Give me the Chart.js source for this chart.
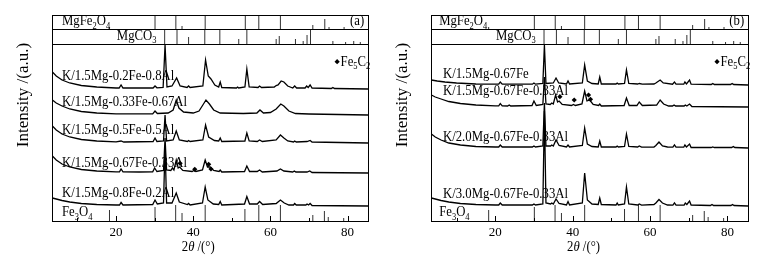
<!DOCTYPE html>
<html>
<head>
<meta charset="utf-8">
<script src="https://cdn.jsdelivr.net/npm/chart.js@4.4.0/dist/chart.umd.min.js"></script>
<style>
body { margin: 0; background: #fff; width: 776px; height: 256px; overflow: hidden; }
canvas { position: absolute; top: 0; }
#chartA { left: 0; }
#chartB { left: 388px; }
</style>
</head>
<body>
<canvas id="chartA" width="388" height="256"></canvas>
<canvas id="chartB" width="388" height="256"></canvas>
<script>
// ---- data ----
var xTicks = [20, 40, 60, 80];
var xMinorTicks = [10, 30, 50, 70];

// reference cards: [2theta, stick height]
var fe3o4Sticks = [[18.3, 11], [30.1, 14], [35.45, 16], [37.1, 8], [43.1, 16], [53.4, 12], [57.0, 16], [62.6, 16], [71.0, 6], [74.0, 10], [75.0, 4], [79.0, 3]];
var mgfe2o4Sticks = [[18.3, 2], [30.1, 14], [35.5, 14], [37.1, 3], [43.1, 14], [53.5, 14], [57.0, 14], [62.6, 14], [71.0, 4], [74.1, 10], [75.2, 2], [79.1, 2]];
var mgco3Sticks = [[32.6, 15], [35.8, 15], [38.8, 7], [43.0, 15], [46.9, 15], [51.8, 5], [53.9, 15], [61.5, 5], [62.3, 8], [66.5, 5], [68.5, 3], [69.5, 9], [70.4, 15], [76.2, 3], [79.5, 2], [81.6, 3], [83.3, 2]];

// panel (a) patterns: [2theta, intensity above own baseline]
var a1 = [[3.5,17],[4.5,13],[6,9],[8,6],[11,3.5],[15,2],[20,1],[20.8,1],[21.3,4],[21.8,1],[29.6,1],[30.1,3],[30.6,1.2],[32.2,1.5],[32.7,44],[33.2,2],[34.5,3],[35.7,11],[36.6,3],[38.4,1.5],[38.8,3],[39.2,1.5],[42.5,3],[43.2,29],[43.9,13],[44.6,10],[45.6,4],[46.6,2],[47.0,7],[47.4,1.5],[51.2,1],[51.5,2],[51.8,1],[53.4,2],[53.9,20],[54.5,2],[56.8,1.5],[57.2,3],[57.7,1.5],[61,2],[61.5,3.5],[62,4],[62.8,8],[63.5,7],[64.5,3],[65.8,1],[66.3,3],[66.8,1],[69,1],[69.4,3],[69.8,1.5],[70.3,4],[70.8,1],[75.8,0.5],[76.2,1.5],[76.6,0.5],[85.3,0]];
var a2 = [[3.5,15],[4.5,12],[6,9],[8,6],[11,3.5],[15,2],[20,1.2],[29.5,1.2],[30.1,4],[30.7,1.5],[33.5,2],[34.8,5],[35.6,15],[36.3,7],[37.5,3],[40,2],[41.5,4],[42.5,10],[43.3,15],[44.2,11],[45.3,5],[47,2],[53,1.5],[56.5,2],[57.3,5],[58.2,2],[60,2.5],[61.5,6],[62.7,11],[63.5,9],[64.8,4],[66.5,1.5],[70,1],[85.3,0]];
var a3 = [[3.5,17],[4.5,13],[6,9],[8,6],[11,3.5],[15,2],[20,1.2],[21.3,2],[22,1],[29.6,1.5],[30.1,5],[30.6,1.5],[32.3,2],[32.7,28],[33.1,2],[34.8,3],[35.6,12],[36.4,3],[38.5,1.5],[38.8,2.5],[39.2,1.5],[42.5,3],[43.2,18],[44,6],[45.5,2.5],[46.6,2],[47,5],[47.4,1.5],[53.4,2],[53.9,10],[54.5,2],[56.6,1.5],[57.2,3],[57.9,1.5],[61.5,3],[62.6,8],[63.5,5],[64.5,2],[66,1],[66.3,2],[66.7,1],[69.5,1.5],[70.3,2.5],[70.8,1],[85.3,0]];
var a4 = [[3.5,17],[4.5,13],[6,9],[8,6],[11,3.5],[15,2],[20,1.2],[20.9,1.2],[21.3,4],[21.8,1.2],[26,1],[29.5,1.2],[30.0,5],[30.6,1.5],[32.3,2.5],[32.7,35],[33.1,3],[34.2,2.5],[34.6,5],[35.0,3],[35.6,13],[36.1,5],[36.5,6],[37.3,2.5],[39.7,1.5],[40.2,2.5],[40.7,1.5],[42.4,3],[43.1,13],[43.7,6],[44.4,6],[45.3,2.5],[46.7,1.5],[47,3],[47.4,1],[53.3,1.5],[53.9,7],[54.6,1.5],[56.6,1.5],[57.2,3],[57.9,1],[61.7,2],[62.6,4],[63.5,2],[65.8,1],[66.2,2],[66.6,1],[69.5,1],[70.2,2],[70.8,0.5],[85.3,0]];
var a5 = [[3.5,8],[4.5,7],[6,5.5],[8,4],[11,2.5],[15,1.5],[20,1],[20.9,1],[21.3,3.5],[21.8,1],[29.5,1.5],[30.1,6],[30.7,2],[32.3,3],[32.7,60],[33.1,3],[34.5,3],[35.6,13],[36.4,4],[38.5,1.5],[38.8,2.5],[39.2,1],[42.4,3],[43.1,19],[43.8,6],[45.2,2],[46.6,1.5],[47,4.5],[47.4,1],[53.3,2],[53.9,9.5],[54.6,2],[56.6,2],[57.2,4.5],[58,1.5],[61.5,2.5],[62.6,6],[63.6,3],[64.8,1],[66,1],[66.3,2.5],[66.7,1],[69.2,1],[69.5,2],[69.9,1],[70.3,2.5],[70.8,0.5],[85.3,0]];
var namesA = ['K/1.5Mg-0.2Fe-0.8Al', 'K/1.5Mg-0.33Fe-0.67Al', 'K/1.5Mg-0.5Fe-0.5Al', 'K/1.5Mg-0.67Fe-0.33Al', 'K/1.5Mg-0.8Fe-0.2Al'];
var fe5c2A = [[36.6, 57.7], [40.4, 51.7], [44.0, 56.7], [44.6, 52]];

// panel (b) patterns
var b1 = [[3.5,5],[5,4],[7,3],[10,2],[15,1],[20,0.8],[20.9,0.8],[21.3,3],[21.8,0.8],[29.6,0.8],[30,2],[30.4,0.8],[32.3,1.5],[32.7,40],[33.1,1.5],[35,2],[35.7,7],[36.4,2],[38.4,1],[38.8,4],[39.2,1],[42.5,2],[43.1,20],[43.8,4],[45,1.5],[46.6,1],[47,8],[47.4,1],[51.2,1],[51.5,2],[51.8,1],[53.4,1.5],[53.9,15],[54.5,1.5],[56.8,1],[57.2,1.5],[58,0.8],[61,1],[61.5,2],[62.6,5],[63.4,2],[65.8,0.8],[66.3,3],[66.7,0.8],[68.7,0.8],[69,3],[69.4,1],[70.2,5],[70.6,0.8],[75.8,0.5],[76.2,1.5],[76.6,0.5],[80.8,0.5],[81.2,1.5],[81.6,0.5],[85.3,0]];
var b2 = [[3.5,12],[4.5,10],[6,8],[8,5.5],[11,3.5],[15,2],[20,1.2],[20.9,1.2],[21.3,3.5],[21.8,1.2],[23.2,1],[23.6,2],[24,1],[29.5,1.5],[30.0,6],[30.6,1.5],[32.3,2.5],[32.7,30],[33.1,3],[34.2,2.5],[34.6,4],[35.0,3],[35.6,12],[36.1,5],[36.5,6],[37.3,2.5],[39.7,1.5],[40.2,2.5],[40.7,1.5],[42.4,3],[43.1,16],[43.7,6],[44.4,7],[45.3,2.5],[46.7,1.5],[47,3],[47.4,1],[53.3,1.5],[53.9,9],[54.6,1.5],[56.6,1.5],[57.2,5],[58,1.5],[61.7,2],[62.6,7],[63.5,3],[64.8,1],[65.8,1],[66.2,2],[66.6,1],[68.8,1],[69.1,2],[69.5,1],[70.2,3],[70.8,0.5],[85.3,0]];
var b3 = [[3.5,14],[4.5,11],[6,8],[8,5],[11,3],[15,1.5],[20,1],[20.9,1],[21.3,3],[21.8,1],[29.6,1],[30,2],[30.4,1],[32.3,2],[32.7,45],[33.1,2],[34.3,2],[34.6,3],[35,2],[35.7,8],[36.5,2.5],[38.4,1],[38.8,3],[39.2,1],[42.5,2.5],[43.1,20],[43.8,4],[45,1.5],[46.6,1],[47,7],[47.4,1],[51.2,1],[51.5,2],[51.8,1],[53.4,1.5],[53.9,14],[54.5,1.5],[56.8,1],[57.2,2],[57.8,0.8],[61,1],[61.5,2.5],[62.3,6],[63.2,2],[64.5,1],[65.9,0.8],[66.3,3],[66.7,0.8],[68.7,0.8],[69,3],[69.4,1],[70.2,4],[70.6,0.5],[75.8,0.5],[76.2,1],[76.6,0.5],[81.1,0.5],[81.5,1.5],[81.9,0.5],[85.3,0]];
var b4 = [[3.5,8],[4.5,7],[6,5.5],[8,4],[11,2.5],[15,1.5],[20,1],[20.9,1],[21.3,3],[21.8,1],[29.6,1],[30,2],[30.4,1],[32.3,2],[32.7,95],[33.1,3],[34.3,2],[34.6,3],[35,2],[35.7,7],[36.5,2.5],[38.4,1],[38.8,4.5],[39.2,1],[42.5,3],[43.1,33],[43.8,6],[45,2],[46.6,1.5],[47,8],[47.4,1.5],[51.2,1],[51.5,3],[51.8,1],[53.4,2],[53.9,19],[54.5,2],[56.8,1],[57.2,2],[57.8,0.8],[61,1.5],[61.5,3],[62.3,6.5],[63.2,3],[64.5,1],[65.9,0.8],[66.3,3],[66.7,0.8],[68.8,1],[69.1,3],[69.5,1.5],[70.2,5],[70.6,1],[75.6,0.5],[76,1.5],[76.4,0.5],[80.9,0.5],[81.3,1.5],[81.7,0.5],[85.3,0]];
var namesB = ['K/1.5Mg-0.67Fe', 'K/1.5Mg-0.67Fe-0.33Al', 'K/2.0Mg-0.67Fe-0.33Al', 'K/3.0Mg-0.67Fe-0.33Al'];
var fe5c2B = [[36.7, 124.3], [40.4, 121], [44.1, 126], [44.6, 121.7]];

// ---- layout (vertical offsets of the stacked patterns, label spots) ----
var offsetsA = [132, 106, 78, 48, 15];
var offsetsB = [136, 114, 73, 15];
var labelPosA = [[6.0, 145], [6.0, 118.7], [6.0, 91], [6.0, 58.3], [6.0, 27.7]];
var labelPosB = [[6.5, 147], [6.5, 130.3], [6.5, 84.3], [6.5, 26.7]];

var serif = "'Liberation Serif', 'Times New Roman', serif";
var MAIN_TOP = 177, STRIP_MID = 192, TOP = 206;

function fontFor(p, size) {
    if (p[1] === 1) return Math.round(size * 0.65) + 'px ' + serif;
    if (p[1] === 2) return 'italic ' + size + 'px ' + serif;
    return size + 'px ' + serif;
}

function drawRich(ctx, parts, x, y, size, align, sx) {
    ctx.save();
    var w = 0;
    parts.forEach(function (p) { ctx.font = fontFor(p, size); w += ctx.measureText(p[0]).width; });
    ctx.translate(x, y);
    ctx.scale(sx, 1);
    var cx = align === 'right' ? -w : (align === 'center' ? -w / 2 : 0);
    ctx.textBaseline = 'middle';
    ctx.textAlign = 'left';
    ctx.fillStyle = '#000';
    parts.forEach(function (p) {
        ctx.font = fontFor(p, size);
        ctx.fillText(p[0], cx, p[1] === 1 ? size * 0.3 : 0);
        cx += ctx.measureText(p[0]).width;
    });
    ctx.restore();
}

function stickPoints(list, base) {
    var pts = [];
    list.forEach(function (s) {
        pts.push({ x: s[0], y: base }, { x: s[0], y: base + s[1] }, { x: s[0], y: null });
    });
    return pts;
}

function makePanel(id, curves, offsets, names, labelPos, markers, tag, pad, fmLeft, titleDeg) {
    var datasets = [];
    curves.forEach(function (c, i) {
        datasets.push({
            type: 'line',
            data: c.map(function (p) { return { x: p[0], y: p[1] + offsets[i] }; }),
            borderColor: '#000', borderWidth: 1.3, pointRadius: 0, tension: 0
        });
    });
    [[fe3o4Sticks, 0], [mgco3Sticks, MAIN_TOP], [mgfe2o4Sticks, STRIP_MID]].forEach(function (s) {
        datasets.push({
            type: 'line', data: stickPoints(s[0], s[1]),
            borderColor: '#333', borderWidth: 1, pointRadius: 0, spanGaps: false
        });
    });
    datasets.push({
        type: 'scatter',
        data: markers.concat([[77.3, 159.3]]).map(function (p) { return { x: p[0], y: p[1] }; }),
        pointStyle: 'rectRot', pointRadius: 2.6, backgroundColor: '#000', borderColor: '#000', borderWidth: 0
    });

    var decor = {
        id: 'decor',
        afterDatasetsDraw: function (chart) {
            var ctx = chart.ctx, a = chart.chartArea;
            var xs = chart.scales.x, ys = chart.scales.y;
            ctx.save();
            ctx.strokeStyle = '#000';
            ctx.lineWidth = 1;
            ctx.strokeRect(Math.round(a.left) + 0.5, Math.round(a.top) + 0.5, Math.round(a.right - a.left), Math.round(a.bottom - a.top));
            [MAIN_TOP, STRIP_MID].forEach(function (v) {
                var py = Math.round(ys.getPixelForValue(v)) + 0.5;
                ctx.beginPath(); ctx.moveTo(a.left, py); ctx.lineTo(a.right, py); ctx.stroke();
            });
            xTicks.concat(xMinorTicks).forEach(function (v) {
                var px = Math.round(xs.getPixelForValue(v)) + 0.5;
                var len = xTicks.indexOf(v) >= 0 ? 5 : 3;
                ctx.beginPath(); ctx.moveTo(px, a.bottom); ctx.lineTo(px, a.bottom - len); ctx.stroke();
            });
            ctx.restore();

            var fs = 15, sx = 0.85;
            names.forEach(function (n, i) {
                drawRich(ctx, [[n, 0]], xs.getPixelForValue(labelPos[i][0]), ys.getPixelForValue(labelPos[i][1]), fs, 'left', sx);
            });
            drawRich(ctx, [['MgFe', 0], ['2', 1], ['O', 0], ['4', 1]], xs.getPixelForValue(fmLeft), ys.getPixelForValue(199.5), fs, 'left', sx);
            drawRich(ctx, [['MgCO', 0], ['3', 1]], xs.getPixelForValue(20.2), ys.getPixelForValue(185), fs, 'left', sx);
            drawRich(ctx, [['Fe', 0], ['3', 1], ['O', 0], ['4', 1]], xs.getPixelForValue(fmLeft), ys.getPixelForValue(8.5), fs, 'left', sx);
            drawRich(ctx, [['(' + tag + ')', 0]], xs.getPixelForValue(84.3), ys.getPixelForValue(199.5), fs, 'right', sx);
            drawRich(ctx, [['Fe', 0], ['5', 1], ['C', 0], ['2', 1]], xs.getPixelForValue(78.2), ys.getPixelForValue(159.3), fs, 'left', sx);
            drawRich(ctx, [['2', 0], ['\u03b8', 2], [' /(\u00b0)', 0]], xs.getPixelForValue(titleDeg), 247, fs, 'center', sx);

            ctx.save();
            ctx.translate(a.left - 28, 95);
            ctx.rotate(-Math.PI / 2);
            ctx.font = '17px ' + serif;
            ctx.fillStyle = '#000';
            ctx.textAlign = 'center';
            ctx.textBaseline = 'middle';
            ctx.fillText('Intensity /(a.u.)', 0, 0);
            ctx.restore();
        }
    };

    return new Chart(document.getElementById(id).getContext('2d'), {
        type: 'line',
        data: { datasets: datasets },
        options: {
            responsive: false,
            animation: false,
            devicePixelRatio: 1,
            layout: { padding: pad },
            plugins: { legend: { display: false }, tooltip: { enabled: false } },
            scales: {
                x: {
                    type: 'linear', min: 3.4, max: 85.3,
                    grid: { display: false, drawTicks: false },
                    border: { display: false },
                    afterBuildTicks: function (scale) { scale.ticks = xTicks.map(function (v) { return { value: v }; }); },
                    afterFit: function (scale) { scale.height = 35; },
                    ticks: { color: '#000', padding: 4, font: { family: serif, size: 13 } }
                },
                y: { type: 'linear', min: 0, max: TOP, display: false }
            }
        },
        plugins: [decor]
    });
}

makePanel('chartA', [a1, a2, a3, a4, a5], offsetsA, namesA, labelPosA, fe5c2A, 'a', { left: 52, right: 20, top: 15, bottom: 0 }, 6.0, 41.3);
makePanel('chartB', [b1, b2, b3, b4], offsetsB, namesB, labelPosB, fe5c2B, 'b', { left: 43, right: 28, top: 15, bottom: 0 }, 5.5, 42.8);
</script>
</body>
</html>
